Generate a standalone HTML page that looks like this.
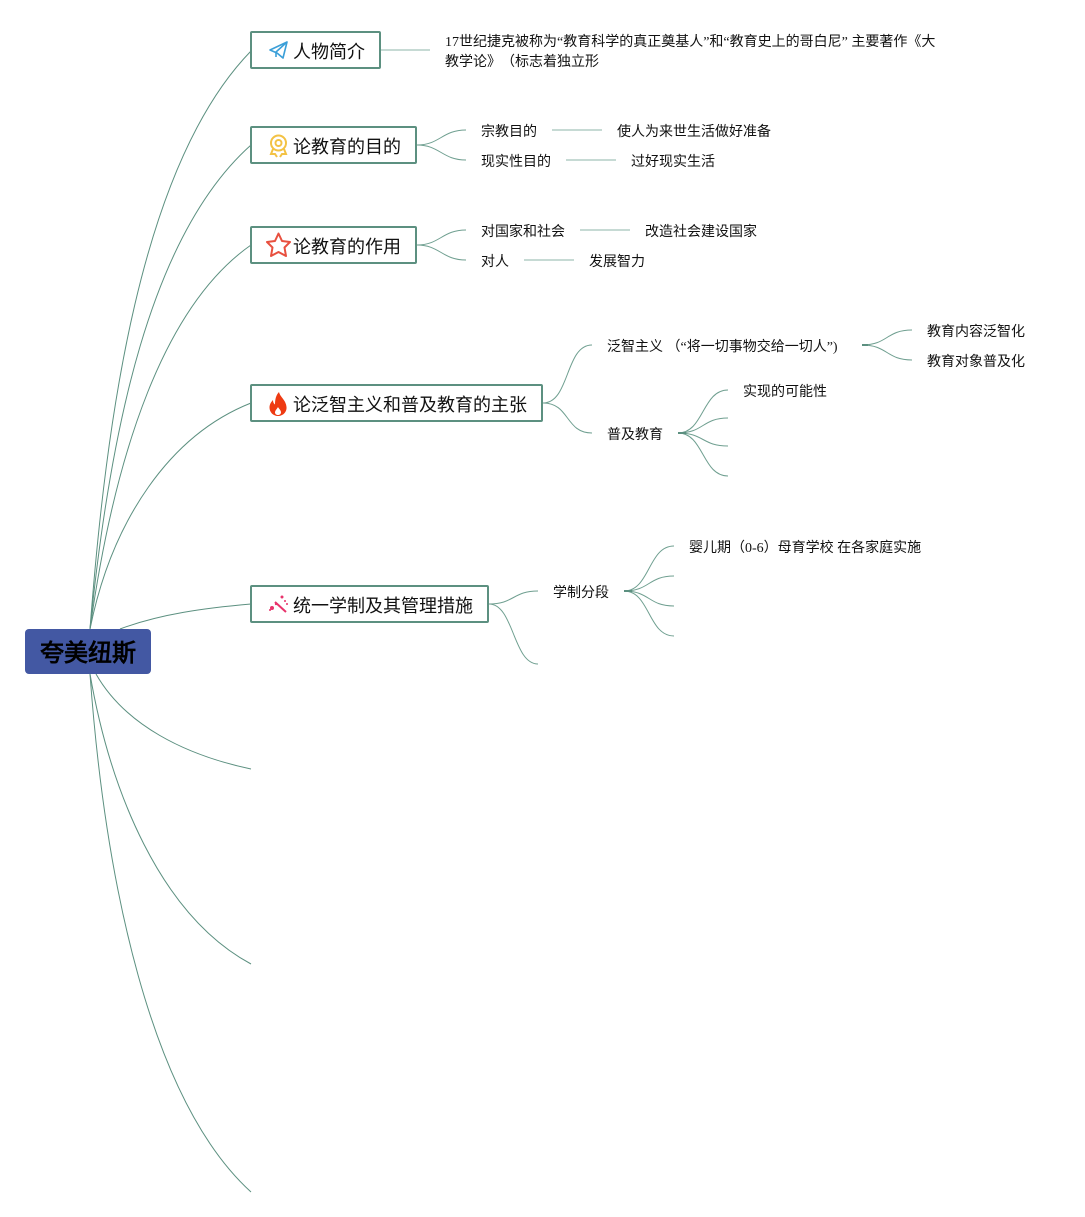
<!DOCTYPE html>
<html><head><meta charset="utf-8">
<style>
html,body{margin:0;padding:0;background:#fff;}
#c{position:relative;width:1085px;height:1217px;overflow:hidden;font-family:"Liberation Serif","WenQuanYi Zen Hei",serif;color:#111;}
.n{position:absolute;box-sizing:border-box;height:38px;border:2px solid #5c9080;border-radius:2px;background:#fff;font-size:18px;line-height:39px;white-space:nowrap;padding-left:41px;}
.n svg{position:absolute;left:14px;top:5px;}
.t{position:absolute;font-size:14px;line-height:20px;white-space:nowrap;margin-top:3px;}
svg.l{position:absolute;left:0;top:0;}
#root{position:absolute;left:25px;top:629px;width:126px;height:45px;background:#4358a3;border-radius:4px;font-size:24px;font-weight:bold;line-height:51px;text-align:center;color:#000;}
</style></head><body><div id="c">
<svg class="l" width="1085" height="1217" fill="none" stroke="#5c9080" stroke-width="1">
<path d="M90 629C106 420 140 165 251 51"/>
<path d="M90 629C110 430 150 235 251 145"/>
<path d="M90 629C115 450 165 305 251 245"/>
<path d="M90 629C112 520 170 435 251 403"/>
<path d="M120 629C160 614 205 608 251 604"/>
<path d="M96 674C125 725 185 755 251 769"/>
<path d="M90 674C110 790 160 915 251 964"/>
<path d="M90 674C105 880 150 1100 251 1192"/>
<g stroke="#8db5a8">
<path d="M381 50H430"/><path d="M552 130H602"/><path d="M566 160H616"/><path d="M580 230H630"/><path d="M524 260H574"/>
</g>
<g stroke="#6f9f90">
<path d="M417 145C440 145 442 130 466 130"/>
<path d="M417 145C440 145 442 160 466 160"/>
<path d="M417 245C440 245 442 230 466 230"/>
<path d="M417 245C440 245 442 260 466 260"/>
<path d="M543 403C570 403 565 345 592 345"/>
<path d="M543 403C570 403 565 433 592 433"/>
<path d="M862 345C888 345 886 330 912 330"/>
<path d="M862 345C888 345 886 360 912 360"/>
<path d="M678 433C704 433 702 390 728 390"/>
<path d="M678 433C704 433 702 418 728 418"/>
<path d="M678 433C704 433 702 446 728 446"/>
<path d="M678 433C704 433 702 476 728 476"/>
<path d="M489 604C514 604 513 591 538 591"/>
<path d="M489 604C514 604 513 664 538 664"/>
<path d="M624 591C650 591 648 546 674 546"/>
<path d="M624 591C650 591 648 576 674 576"/>
<path d="M624 591C650 591 648 606 674 606"/>
<path d="M624 591C650 591 648 636 674 636"/>
</g>
<g stroke-width="2"><path d="M862 345H868"/><path d="M678 433H686"/><path d="M624 591H632"/></g>
</svg>

<div id="root">夸美纽斯</div>

<div class="n" style="left:250px;top:31px;width:131px;">
<svg width="24" height="24" viewBox="0 0 24 24" fill="none" stroke="#3b9fd8" stroke-width="1.6" stroke-linejoin="round"><path d="M4 12L21 4L17 20L11 15Z"/><path d="M21 4L10 14V19"/></svg>人物简介</div>

<div class="n" style="left:250px;top:126px;width:167px;">
<svg width="24" height="26" viewBox="0 0 24 26" fill="none" stroke="#f3c244" stroke-width="2"><circle cx="12.500" cy="10" r="7.500"/><circle cx="12.500" cy="10" r="3"/><path d="M7 16L5 21L9 21L11 24M18 16L20 21L16 21L14 24"/></svg>论教育的目的</div>

<div class="n" style="left:250px;top:226px;width:167px;">
<svg style="left:13px;top:3px" width="28" height="28" viewBox="0 0 28 28" fill="#fff" stroke="#e8503f" stroke-width="2" stroke-linejoin="round"><path d="M13.500 2.500L17 10L25 11L19.500 16.500L21 25L13.500 21L6 25L7.500 16.500L2 11L10 10Z"/></svg>论教育的作用</div>

<div class="n" style="left:250px;top:384px;width:293px;">
<svg width="24" height="26" viewBox="0 0 24 26"><path fill="#ee3a12" d="M13 1C14 6 20 9 20.500 16C21 21 17 25 12 25C7 25 3.500 21 3.500 16.500C3.500 13 5.500 10.500 7 9C7 11 7.500 12.500 9 13.500C9 8.500 10 4 13 1Z"/><path fill="#fff" d="M12 16C13 18 15 19 15 21.500C15 23 13.500 24 12 24C10.500 24 9 23 9 21.500C9 19.500 11 18 12 16Z"/></svg>论泛智主义和普及教育的主张</div>

<div class="n" style="left:250px;top:585px;width:239px;">
<svg width="24" height="24" viewBox="0 0 24 24" fill="#e8336b" stroke="none"><path d="M9 10L20 20" stroke="#e8336b" stroke-width="2"/><circle cx="6" cy="16" r="2"/><circle cx="10" cy="12" r="1.200"/><circle cx="16" cy="5" r="1.500"/><circle cx="4" cy="18" r="1"/><circle cx="21" cy="12" r="1"/><circle cx="19" cy="9" r="1"/></svg>统一学制及其管理措施</div>

<div class="t" style="left:445px;top:30px;">17世纪捷克被称为“教育科学的真正奠基人”和“教育史上的哥白尼” 主要著作《大</div>
<div class="t" style="left:445px;top:50px;">教学论》<span style="margin-left:7px">（标志着独立形</span></div>
<div class="t" style="left:481px;top:120px;">宗教目的</div>
<div class="t" style="left:617px;top:120px;">使人为来世生活做好准备</div>
<div class="t" style="left:481px;top:150px;">现实性目的</div>
<div class="t" style="left:631px;top:150px;">过好现实生活</div>
<div class="t" style="left:481px;top:220px;">对国家和社会</div>
<div class="t" style="left:645px;top:220px;">改造社会建设国家</div>
<div class="t" style="left:481px;top:250px;">对人</div>
<div class="t" style="left:589px;top:250px;">发展智力</div>
<div class="t" style="left:607px;top:335px;">泛智主义 （“将一切事物交给一切人”)</div>
<div class="t" style="left:927px;top:320px;">教育内容泛智化</div>
<div class="t" style="left:927px;top:350px;">教育对象普及化</div>
<div class="t" style="left:607px;top:423px;">普及教育</div>
<div class="t" style="left:743px;top:380px;">实现的可能性</div>
<div class="t" style="left:553px;top:581px;">学制分段</div>
<div class="t" style="left:689px;top:536px;">婴儿期（0-6）母育学校 在各家庭实施</div>
</div></body></html>
